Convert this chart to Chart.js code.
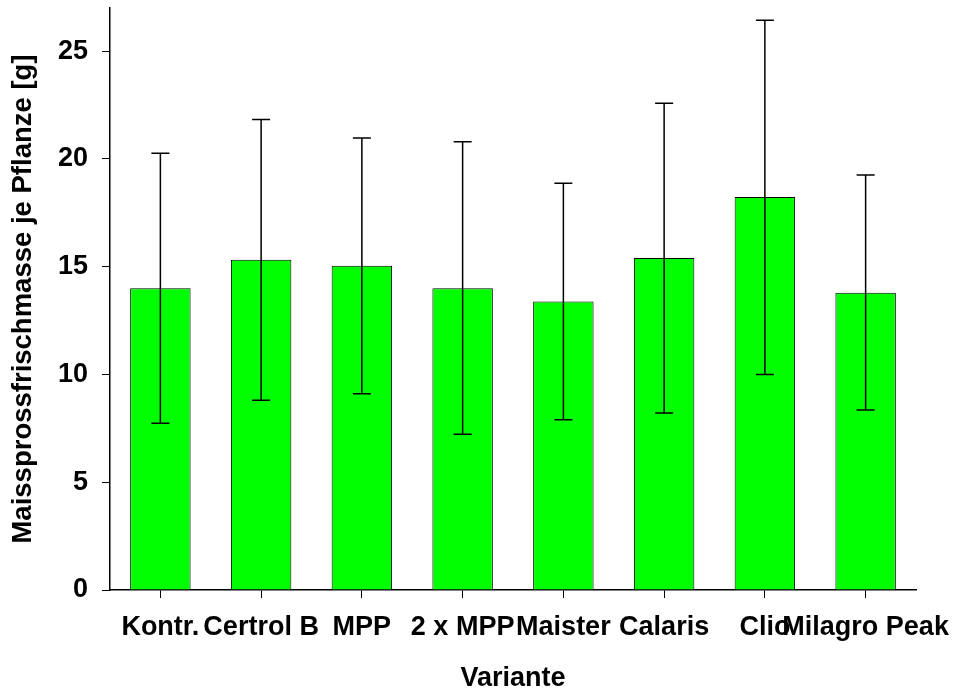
<!DOCTYPE html>
<html><head><meta charset="utf-8">
<script src="https://cdn.jsdelivr.net/npm/chart.js@4"></script>
<style>html,body{margin:0;padding:0;background:#fff}#wrap{width:956px;height:695px;position:relative}</style>
</head><body><div id="wrap"><canvas id="c"></canvas></div>
<script>
const categories = ["Kontr.", "Certrol B", "MPP", "2 x MPP", "Maister", "Calaris", "Clio", "Milagro Peak"];
const means = [14.0, 15.32, 15.04, 14.0, 13.38, 15.4, 18.23, 13.79];
const errLow = [7.74, 8.8, 9.11, 7.23, 7.9, 8.21, 10.0, 8.35];
const errHigh = [20.26, 21.83, 20.97, 20.8, 18.87, 22.58, 26.43, 19.25];
const yTicks = [0, 5, 10, 15, 20, 25];
const yTitle = "Maissprossfrischmasse je Pflanze [g]";
const xTitle = "Variante";

const FONT = "'Liberation Sans', Arial, sans-serif";

const errorBars = {
  id: 'errorBars',
  afterDatasetsDraw(chart) {
    const {ctx, scales: {x, y}} = chart;
    ctx.save();
    ctx.strokeStyle = '#000';
    ctx.lineWidth = 1.5;
    categories.forEach((c, i) => {
      const px = x.getPixelForValue(i);
      const yl = y.getPixelForValue(errLow[i]);
      const yh = y.getPixelForValue(errHigh[i]);
      ctx.beginPath();
      ctx.moveTo(px, yl); ctx.lineTo(px, yh);
      ctx.moveTo(px - 9, yh); ctx.lineTo(px + 9, yh);
      ctx.moveTo(px - 9, yl); ctx.lineTo(px + 9, yl);
      ctx.stroke();
    });
    ctx.restore();
  }
};

new Chart(document.getElementById('c'), {
  type: 'bar',
  data: {
    labels: categories,
    datasets: [{
      data: means,
      backgroundColor: '#00ff00',
      borderColor: '#000',
      borderWidth: 1,
      barPercentage: 0.6,
      categoryPercentage: 1.0
    }]
  },
  options: {
    responsive: true,
    maintainAspectRatio: false,
    animation: false,
    layout: {padding: {left: 0, right: 40, top: 8, bottom: 0}},
    plugins: {legend: {display: false}, tooltip: {enabled: false}},
    scales: {
      x: {
        grid: {display: true, drawOnChartArea: false, drawTicks: true, tickLength: 8, color: '#000', offset: false, lineWidth: 1},
        border: {display: true, color: '#000', width: 1.5},
        ticks: {color: '#000', font: {family: FONT, size: 27, weight: 'bold'}, padding: 13, autoSkip: false, maxRotation: 0, minRotation: 0},
        title: {display: true, text: xTitle, color: '#000', font: {family: FONT, size: 27, weight: 'bold', lineHeight: 1}, padding: {top: 0, bottom: 3}},
        afterFit(s) { s.height = 105; s.paddingLeft = 0; s.paddingRight = 0; }
      },
      y: {
        min: 0, max: 27,
        afterBuildTicks(s) { s.ticks = yTicks.map(v => ({value: v})); },
        grid: {display: true, drawOnChartArea: false, drawTicks: true, tickLength: 8, color: '#000', lineWidth: 1},
        border: {display: true, color: '#000', width: 1.5},
        ticks: {color: '#000', font: {family: FONT, size: 27, weight: 'bold'}, padding: 14},
        title: {display: true, text: yTitle, color: '#000', font: {family: FONT, size: 27.5, weight: 'bold', lineHeight: 1}, padding: {top: 10, bottom: 0}},
        afterFit(s) { s.width = 110; s.paddingTop = 0; s.paddingBottom = 0; }
      }
    }
  },
  plugins: [errorBars]
});
</script>
</body></html>
